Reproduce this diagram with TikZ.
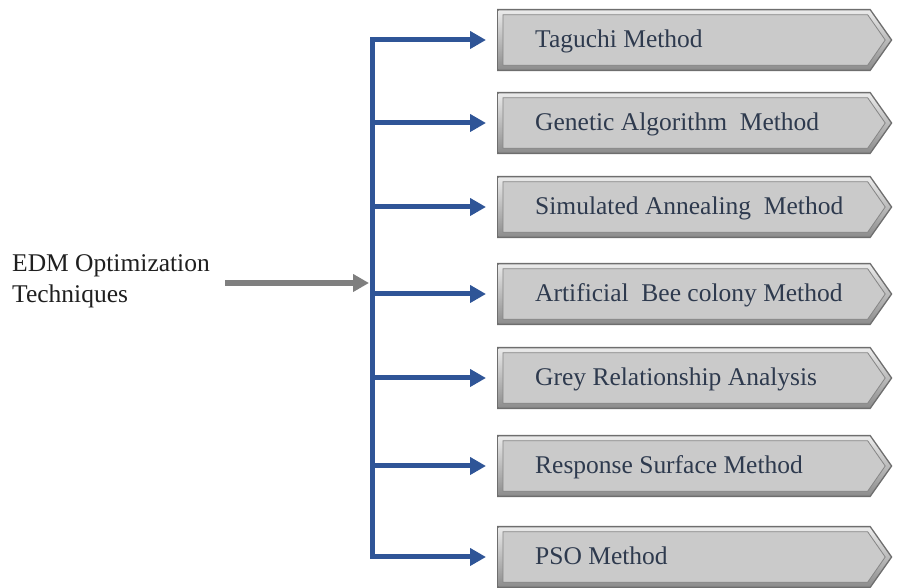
\documentclass[tikz,border=0pt]{standalone}
\usepackage{fontspec}
\setmainfont{Liberation Serif}
\usetikzlibrary{arrows.meta,backgrounds,calc}
\definecolor{lineblue}{HTML}{2F5597}
\definecolor{linegrey}{HTML}{7F7F7F}
\definecolor{boxtext}{HTML}{2E3A4E}
\definecolor{boxedge}{HTML}{6E6E6E}
\definecolor{boxface}{HTML}{CACACA}
\definecolor{boxline}{HTML}{858585}
\begin{document}
\begin{tikzpicture}[x=1pt,y=1pt,
  methodbox/.style={rectangle, anchor=west, minimum width=373pt, minimum height=62pt,
    text width=335pt, inner xsep=19pt, inner ysep=0pt, align=flush left,
    text height=18pt, text depth=3pt, text=boxtext,
    font=\fontsize{25.5}{28}\selectfont,
    execute at begin node={\hspace*{19pt}}},
  srctext/.style={anchor=north west, inner sep=0pt, align=flush left, text=black!88,
    font=\fontsize{25.5}{31}\selectfont},
  bluelink/.style={draw=lineblue, line width=5pt},
  bluearrow/.style={bluelink, -{Triangle[length=16pt,width=17pt]}, shorten >=11pt},
  greyarrow/.style={draw=linegrey, line width=5.5pt, -{Triangle[length=16pt,width=17pt]}}
]
\useasboundingbox (0,0) rectangle (897,588);

% source text
\node[srctext] (src) at (12,588-254) {EDM Optimization\\Techniques};

% method boxes
\node[methodbox] (b1) at (497,548) {Taguchi Method};
\node[methodbox] (b2) at (497,465) {Genetic Algorithm\ \ Method};
\node[methodbox] (b3) at (497,381) {Simulated Annealing\ \ Method};
\node[methodbox] (b4) at (497,294) {Artificial\ \ Bee colony Method};
\node[methodbox] (b5) at (497,210) {Grey Relationship Analysis};
\node[methodbox] (b6) at (497,122) {Response Surface Method};
\node[methodbox] (b7) at (497,31) {PSO Method};

% bevelled pointer shapes behind the texts
\begin{scope}[on background layer]
\foreach \b in {b1,b2,b3,b4,b5,b6,b7}{
  \fill[boxedge] let \p1=(\b.north west), \p2=(\b.south east) in
    (\x1,\y1) -- (\x2,\y1) -- (\x2+22,{(\y1+\y2)/2}) -- (\x2,\y2) -- (\x1,\y2) -- cycle;
  \shade[top color=white!92!black, bottom color=black!45] let \p1=(\b.north west), \p2=(\b.south east) in
    (\x1+1.5,\y1-1.5) -- (\x2-0.7,\y1-1.5) -- (\x2+20.2,{(\y1+\y2)/2}) -- (\x2-0.7,\y2+1.5) -- (\x1+1.5,\y2+1.5) -- cycle;
  \filldraw[fill=boxface, draw=boxline, line width=0.8pt] let \p1=(\b.north west), \p2=(\b.south east) in
    (\x1+6,\y1-6) -- (\x2-2.7,\y1-6) -- (\x2+14.8,{(\y1+\y2)/2}) -- (\x2-2.7,\y2+6) -- (\x1+6,\y2+6) -- cycle;
}
\end{scope}

% trunk and connectors
\coordinate (trunk) at (372,305);
\coordinate (gstart) at (225,305);
\draw[bluelink, line cap=rect] (b1.west -| trunk) -- (b7.west -| trunk);
\foreach \b in {b1,b2,b3,b4,b5,b6,b7}{
  \draw[bluearrow] (\b.west -| trunk) -- (\b.west);
}
\draw[greyarrow, shorten >=3pt] (gstart) -- (trunk);
\end{tikzpicture}
\end{document}
